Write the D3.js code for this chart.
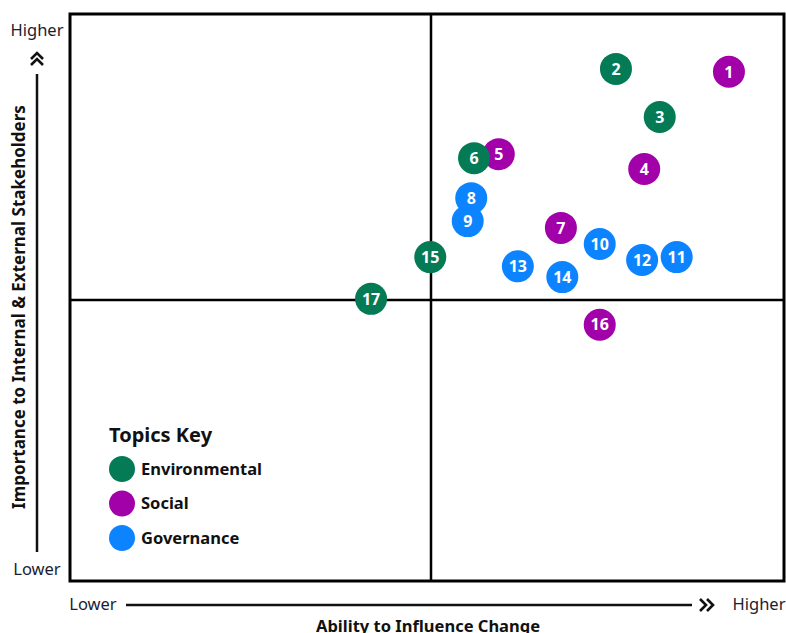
<!DOCTYPE html>
<html>
<head>
<meta charset="utf-8">
<script src="https://cdn.jsdelivr.net/npm/d3@7"></script>
<style>
  body { margin: 0; background: #fff; }
  text { font-family: "Noto Sans", "Open Sans", sans-serif; }
</style>
</head>
<body>
<div id="chart"></div>
<script>
// topic ids and their category
const topicIds = [1, 2, 3, 4, 5, 6, 7, 8, 9, 10, 11, 12, 13, 14, 15, 16, 17]
const topicGroups = ["Social", "Environmental", "Environmental", "Social", "Social", "Environmental", "Social",
    "Governance", "Governance", "Governance", "Governance", "Governance", "Governance", "Governance",
    "Environmental", "Social", "Environmental"]
// ability to influence change (0-100, midpoint 50)
const influence = [92.2, 76.2, 82.4, 80.2, 59.6, 56.1, 68.4, 55.7, 55.2, 73.9, 84.8, 79.9, 62.3, 68.6, 49.9, 73.9, 41.7]
// importance to stakeholders (0-100, midpoint 50)
const importance = [89.9, 90.4, 82.0, 72.9, 75.5, 74.8, 62.6, 67.8, 63.8, 59.8, 57.5, 57.0, 55.9, 54.0, 57.5, 45.6, 50.2]

const groups = ["Environmental", "Social", "Governance"]
const groupColors = ["#047a55", "#a200a8", "#0d84ff"]

const width = 786, height = 633
const svg = d3.select("#chart").append("svg")
    .attr("width", width)
    .attr("height", height)

const x = d3.scaleLinear().domain([0, 50, 100]).range([70, 431, 784])
const y = d3.scaleLinear().domain([0, 50, 100]).range([581, 300, 14])
const color = d3.scaleOrdinal().domain(groups).range(groupColors)

// frame + quadrant lines
svg.append("rect")
    .attr("x", x(0)).attr("y", y(100))
    .attr("width", x(100) - x(0)).attr("height", y(0) - y(100))
    .attr("fill", "none").attr("stroke", "#000").attr("stroke-width", 3)
svg.append("line")
    .attr("x1", x(50)).attr("x2", x(50)).attr("y1", y(100)).attr("y2", y(0))
    .attr("stroke", "#000").attr("stroke-width", 2.5)
svg.append("line")
    .attr("x1", x(0)).attr("x2", x(100)).attr("y1", y(50)).attr("y2", y(50))
    .attr("stroke", "#000").attr("stroke-width", 2.5)

const data = topicIds.map((id, i) => ({id: id, group: topicGroups[i], x: influence[i], y: importance[i]}))

const pts = svg.selectAll(".topic")
    .data(data)
    .enter().append("g")
    .attr("class", "topic")
    .attr("transform", d => "translate(" + x(d.x) + "," + y(d.y) + ")")
pts.append("circle")
    .attr("r", 16)
    .attr("fill", d => color(d.group))
pts.append("text")
    .attr("text-anchor", "middle")
    .attr("dy", "0.36em")
    .attr("fill", "#fff")
    .style("font-size", "16px")
    .style("font-weight", "bold")
    .text(d => d.id)

// vertical axis annotation
const axisCol = "#111"
svg.append("text").attr("x", 37).attr("y", 36).attr("text-anchor", "middle")
    .style("font-size", "16.5px").attr("fill", "#1c1c30").text("Higher")
svg.append("text").attr("x", 37).attr("y", 575).attr("text-anchor", "middle")
    .style("font-size", "16.5px").attr("fill", "#1c1c30").text("Lower")
svg.append("line").attr("x1", 37).attr("x2", 37).attr("y1", 74).attr("y2", 552)
    .attr("stroke", axisCol).attr("stroke-width", 2.5)
svg.append("path").attr("d", "M31,59 L37,53 L43,59 M31,65 L37,59 L43,65")
    .attr("fill", "none").attr("stroke", axisCol).attr("stroke-width", 2.6)
svg.append("text")
    .attr("transform", "translate(25,307) rotate(-90)")
    .attr("text-anchor", "middle")
    .style("font-size", "17px").style("font-weight", "bold").attr("fill", "#111")
    .text("Importance to Internal & External Stakeholders")

// horizontal axis annotation
svg.append("text").attr("x", 93).attr("y", 610).attr("text-anchor", "middle")
    .style("font-size", "16.5px").attr("fill", "#1c1c30").text("Lower")
svg.append("text").attr("x", 759).attr("y", 610).attr("text-anchor", "middle")
    .style("font-size", "16.5px").attr("fill", "#1c1c30").text("Higher")
svg.append("line").attr("x1", 126).attr("x2", 692).attr("y1", 605).attr("y2", 605)
    .attr("stroke", axisCol).attr("stroke-width", 2.5)
svg.append("path").attr("d", "M700,599 L706,605 L700,611 M707,599 L713,605 L707,611")
    .attr("fill", "none").attr("stroke", axisCol).attr("stroke-width", 2.6)
svg.append("text").attr("x", 428).attr("y", 632).attr("text-anchor", "middle")
    .style("font-size", "16.5px").style("font-weight", "bold").attr("fill", "#111")
    .text("Ability to Influence Change")

// legend
const legend = svg.append("g").attr("transform", "translate(109,0)")
legend.append("text").attr("x", 0).attr("y", 442)
    .style("font-size", "20px").style("font-weight", "bold").attr("fill", "#111")
    .text("Topics Key")
const items = legend.selectAll(".legends")
    .data(groups)
    .enter().append("g")
    .attr("class", "legends")
    .attr("transform", (d, i) => "translate(0," + (469 + i * 34.5) + ")")
items.append("circle").attr("cx", 13).attr("cy", 0).attr("r", 13)
    .attr("fill", d => color(d))
items.append("text").attr("x", 32).attr("dy", "0.36em")
    .style("font-size", "16.5px").style("font-weight", "bold").attr("fill", "#111")
    .text(d => d)
</script>
</body>
</html>
